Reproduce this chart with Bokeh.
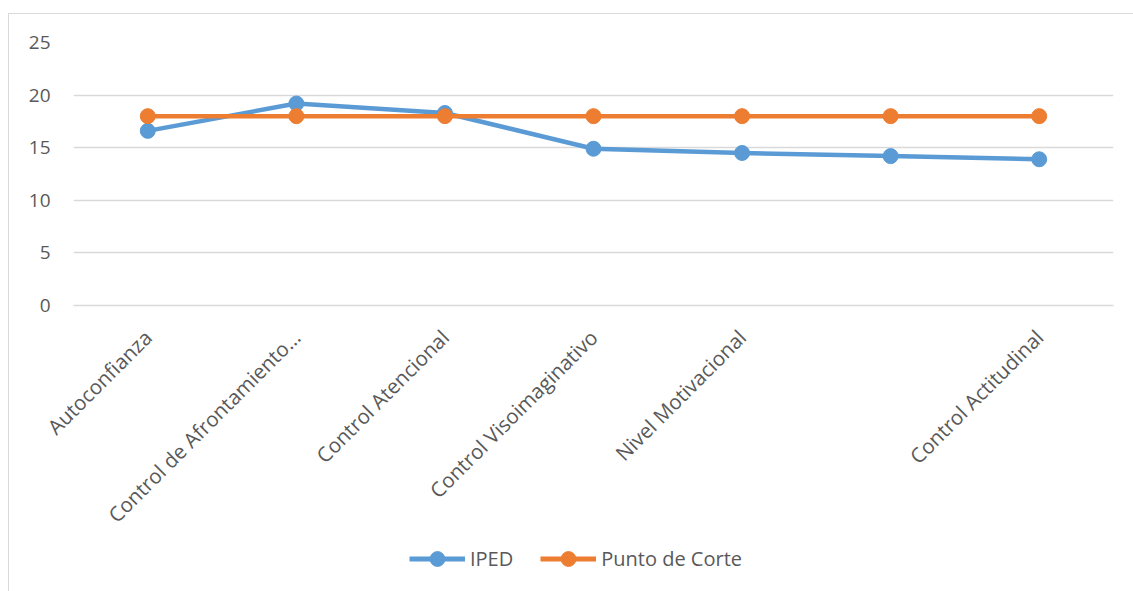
import math
from bokeh.plotting import figure
from bokeh.models import Range1d, FixedTicker, Legend, LegendItem
from bokeh.layouts import column
from bokeh.embed import file_html
from bokeh.resources import INLINE

categories = ["Autoconfianza", "Control de Afrontamiento…", "Control Atencional",
              "Control Visoimaginativo", "Nivel Motivacional", "", "Control Actitudinal"]
iped = [16.6, 19.2, 18.3, 14.9, 14.5, 14.2, 13.9]
punto_corte = [18, 18, 18, 18, 18, 18, 18]
y_ticks = [0, 5, 10, 15, 20, 25]
series_names = ["IPED", "Punto de Corte"]

xs = list(range(len(categories)))
FONT = "Open Sans"
TXT = "#595959"
blue = "#5B9BD5"
orange = "#ED7D31"

W = 1124
H_MAIN = 528
H_LEG = 49

p = figure(width=W, height=H_MAIN, output_backend="svg", toolbar_location=None,
           x_range=Range1d(-0.5, len(categories) - 0.5), y_range=Range1d(0, 25),
           min_border_left=64, min_border_right=20, min_border_top=28,
           min_border_bottom=H_MAIN - 291)
p.outline_line_color = None

p.yaxis.ticker = FixedTicker(ticks=y_ticks)
p.yaxis.axis_line_color = None
p.yaxis.major_tick_line_color = None
p.yaxis.minor_tick_line_color = None
p.yaxis.major_label_text_font = FONT
p.yaxis.major_label_text_font_size = "19px"
p.yaxis.major_label_text_color = TXT
p.yaxis.major_label_standoff = 17

p.xaxis.ticker = FixedTicker(ticks=xs)
p.xaxis.major_label_overrides = {i: c for i, c in zip(xs, categories)}
p.xaxis.major_label_orientation = math.pi / 4
p.xaxis.axis_line_color = "#d9d9d9"
p.xaxis.axis_line_width = 1.5
p.xaxis.major_tick_line_color = None
p.xaxis.minor_tick_line_color = None
p.xaxis.major_label_text_font = FONT
p.xaxis.major_label_text_font_size = "20.5px"
p.xaxis.major_label_text_color = TXT
p.xaxis.major_label_standoff = 22

p.xgrid.grid_line_color = None
p.ygrid.grid_line_color = "#d9d9d9"
p.ygrid.grid_line_width = 1.5
p.ygrid.ticker = FixedTicker(ticks=y_ticks)

p.line(xs, iped, line_color=blue, line_width=4.5)
p.scatter(xs, iped, size=15, fill_color=blue, line_color=blue)
p.line(xs, punto_corte, line_color=orange, line_width=4.5)
p.scatter(xs, punto_corte, size=15, fill_color=orange, line_color=orange)

# legend strip (series glyphs drawn off-range so only the legend shows)
q = figure(width=W, height=H_LEG, output_backend="svg", toolbar_location=None,
           x_range=Range1d(0, 1), y_range=Range1d(0, 1), min_border=0)
q.axis.visible = False
q.grid.grid_line_color = None
q.outline_line_color = None
items = []
for name, col in zip(series_names, [blue, orange]):
    lr = q.line([10, 11], [10, 10], line_color=col, line_width=5)
    sr = q.scatter([10], [10], size=15, fill_color=col, line_color=col)
    items.append(LegendItem(label=name, renderers=[lr, sr]))
legend = Legend(items=items, orientation="horizontal", location=(336, 14),
                label_text_font=FONT, label_text_font_size="20px",
                label_text_color=TXT, border_line_color=None,
                background_fill_alpha=0, label_standoff=5,
                glyph_width=56, glyph_height=37, spacing=27,
                margin=0, padding=0)
q.add_layout(legend, "center")

layout = column(p, q, spacing=0,
                styles={"margin-left": "8px", "margin-top": "13px",
                        "border-left": "1px solid #d9d9d9",
                        "border-top": "1px solid #d9d9d9"})

open("out.html", "w").write(file_html(layout, INLINE))
